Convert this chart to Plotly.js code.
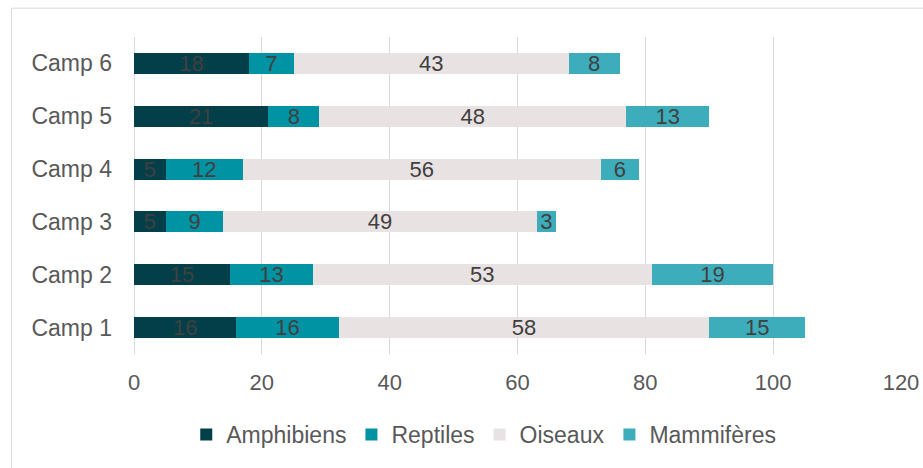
<!DOCTYPE html>
<html>
<head>
<meta charset="utf-8">
<script src="https://cdn.plot.ly/plotly-3.0.1.min.js"></script>
<style>
html,body{margin:0;padding:0;background:#fff;overflow:hidden;}
#chart{width:923px;height:468px;}
</style>
</head>
<body>
<div id="chart"></div>
<script>
const categories = ["Camp 1", "Camp 2", "Camp 3", "Camp 4", "Camp 5", "Camp 6"];
const seriesNames = ["Amphibiens", "Reptiles", "Oiseaux", "Mammifères"];
const amphibiens = [16, 15, 5, 5, 21, 18];
const reptiles = [16, 13, 9, 12, 8, 7];
const oiseaux = [58, 53, 49, 56, 48, 43];
const mammiferes = [15, 19, 3, 6, 13, 8];
const xTicks = [0, 20, 40, 60, 80, 100, 120];

const colors = ["#033f48", "#0093a3", "#e8e2e2", "#3eadbb"];
const values = [amphibiens, reptiles, oiseaux, mammiferes];

const traces = values.map((v, i) => ({
  type: "bar",
  orientation: "h",
  name: seriesNames[i],
  y: categories,
  x: v,
  text: v.map(String),
  textposition: "inside",
  insidetextanchor: "middle",
  textangle: 0,
  constraintext: "none",
  textfont: {family: "Liberation Sans, Arial, sans-serif", size: 22, color: "#404040"},
  marker: {color: colors[i], line: {width: 0}},
  hoverinfo: "x+y+name"
}));

const layout = {
  width: 923,
  height: 468,
  barmode: "stack",
  bargap: 0.6,
  margin: {l: 134, r: 22, t: 37, b: 112, pad: 0},
  paper_bgcolor: "#ffffff",
  plot_bgcolor: "#ffffff",
  font: {family: "Liberation Sans, Arial, sans-serif", color: "#595959", size: 22},
  xaxis: {
    range: [0, 120],
    tickvals: xTicks,
    ticktext: xTicks.map(String),
    showgrid: true,
    gridcolor: "#d9d9d9",
    gridwidth: 1,
    zeroline: true,
    zerolinecolor: "#d9d9d9",
    zerolinewidth: 1,
    showline: false,
    ticks: "",
    ticklabelstandoff: 13,
    tickfont: {size: 22, color: "#595959"},
    fixedrange: true
  },
  yaxis: {
    type: "category",
    categoryorder: "array",
    categoryarray: categories,
    showgrid: false,
    zeroline: false,
    showline: false,
    ticks: "",
    ticklabelstandoff: 21,
    tickfont: {size: 23, color: "#595959"},
    fixedrange: true
  },
  legend: {
    orientation: "h",
    x: 0.456,
    xanchor: "center",
    y: -0.254,
    yanchor: "middle",
    font: {size: 23, color: "#595959"},
    itemwidth: 30,
    tracegroupgap: 0,
    traceorder: "normal"
  },
  showlegend: true,
  shapes: [{
    type: "rect",
    xref: "paper",
    yref: "paper",
    x0: -0.1597,
    x1: 1.2,
    y0: -0.6,
    y1: 1.0909,
    line: {color: "#d9d9d9", width: 1},
    fillcolor: "rgba(0,0,0,0)",
    layer: "below"
  }]
};

Plotly.newPlot("chart", traces, layout, {displayModeBar: false, staticPlot: true});
</script>
</body>
</html>
